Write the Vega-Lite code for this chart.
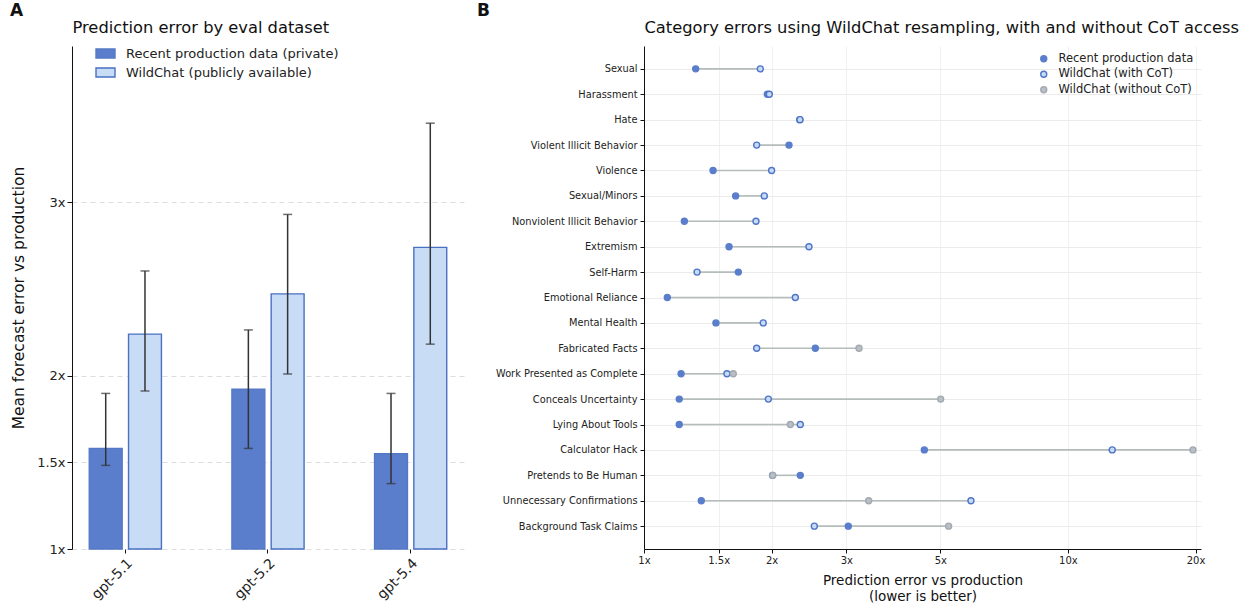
{
  "$schema": "https://vega.github.io/schema/vega-lite/v6.json",
  "padding": {"left": 10, "top": 2, "right": 5, "bottom": 5},
  "spacing": 13,
  "resolve": {"scale": {"fill": "independent", "stroke": "independent", "x": "independent", "y": "independent"}, "legend": {"fill": "independent", "stroke": "independent"}},
  "config": {
    "font": "DejaVu Sans",
    "view": {"stroke": null},
    "axis": {"domainColor": "#111", "tickColor": "#111", "labelColor": "#222", "titleColor": "#111", "titleFontWeight": "normal"},
    "title": {"color": "#111"}
  },
  "hconcat": [
    {
      "width": 392,
      "height": 503,
      "title": {"text": "A", "anchor": "start", "frame": "group", "dx": -62, "fontSize": 17, "fontWeight": "bold", "offset": -1},
      "data": {"values": [
        {"model": "gpt-5.1", "dataset": "Recent production data (private)", "value": 1.58, "lo": 1.482, "hi": 1.897},
        {"model": "gpt-5.1", "dataset": "WildChat (publicly available)", "value": 2.239, "lo": 1.911, "hi": 2.603},
        {"model": "gpt-5.2", "dataset": "Recent production data (private)", "value": 1.922, "lo": 1.58, "hi": 2.263},
        {"model": "gpt-5.2", "dataset": "WildChat (publicly available)", "value": 2.471, "lo": 2.009, "hi": 2.929},
        {"model": "gpt-5.4", "dataset": "Recent production data (private)", "value": 1.549, "lo": 1.377, "hi": 1.897},
        {"model": "gpt-5.4", "dataset": "WildChat (publicly available)", "value": 2.739, "lo": 2.181, "hi": 3.455}
      ]},
      "resolve": {"axis": {"x": "independent"}},
      "layer": [
        {
          "mark": {"type": "bar", "strokeWidth": 1.4},
          "encoding": {
            "x": {"field": "model", "type": "nominal", "scale": {"paddingInner": 0.494, "paddingOuter": 0.121},
              "axis": {"title": null, "labelAngle": -45, "labelAlign": "right", "labelBaseline": "top", "labelFontSize": 14, "domain": false, "tickSize": 4, "labelPadding": 3}},
            "xOffset": {"field": "dataset", "type": "nominal", "scale": {"paddingInner": 0.162, "paddingOuter": 0}},
            "y": {"field": "value", "type": "quantitative", "scale": {"domain": [1, 3.9], "zero": false, "nice": false},
              "axis": {"values": [1, 1.5, 2, 3], "labelExpr": "datum.value + 'x'", "labelFontSize": 13, "tickSize": 5, "title": "Mean forecast error vs production", "titleFontSize": 15.5, "titlePadding": 10, "grid": true, "gridDash": [5, 4], "gridColor": "#dddddd"}},
            "y2": {"datum": 1},
            "fill": {"field": "dataset", "type": "nominal", "scale": {"domain": ["Recent production data (private)", "WildChat (publicly available)"], "range": ["#5a7ecb", "#c9dcf6"]},
              "legend": {"title": null, "orient": "none", "legendX": 23, "legendY": -3, "symbolType": "M-1,-0.47H1V0.47H-1Z", "symbolSize": 361, "symbolStrokeWidth": 1.4, "labelFontSize": 13, "labelColor": "#222", "labelOffset": 10, "rowPadding": 1, "padding": 0, "labelLimit": 400}},
            "stroke": {"field": "dataset", "type": "nominal", "scale": {"domain": ["Recent production data (private)", "WildChat (publicly available)"], "range": ["#5578c6", "#4a70c2"]}, "legend": null}
          }
        },
        {
          "mark": {"type": "rule", "color": "#333333", "strokeWidth": 1.5},
          "encoding": {
            "x": {"field": "model", "type": "nominal", "axis": {"orient": "top", "title": "Prediction error by eval dataset", "labels": false, "ticks": false, "domain": false, "titleAnchor": "start", "titleFontSize": 16.3, "titlePadding": 11}},
            "xOffset": {"field": "dataset", "type": "nominal"},
            "y": {"field": "lo", "type": "quantitative"},
            "y2": {"field": "hi"}
          }
        },
        {
          "mark": {"type": "tick", "color": "#333333", "size": 9, "thickness": 1.5},
          "encoding": {
            "x": {"field": "model", "type": "nominal", "axis": null},
            "xOffset": {"field": "dataset", "type": "nominal"},
            "y": {"field": "lo", "type": "quantitative"}
          }
        },
        {
          "mark": {"type": "tick", "color": "#333333", "size": 9, "thickness": 1.5},
          "encoding": {
            "x": {"field": "model", "type": "nominal", "axis": null},
            "xOffset": {"field": "dataset", "type": "nominal"},
            "y": {"field": "hi", "type": "quantitative"}
          }
        }
      ]
    },
    {
      "width": 557,
      "height": 503,
      "title": {"text": "B", "anchor": "start", "frame": "group", "dx": -167, "fontSize": 17, "fontWeight": "bold", "offset": -1},
      "data": {"values": [
        {"category": "Sexual", "series": "Recent production data", "value": 1.324},
        {"category": "Harassment", "series": "Recent production data", "value": 1.954},
        {"category": "Hate", "series": "Recent production data", "value": 2.33},
        {"category": "Violent Illicit Behavior", "series": "Recent production data", "value": 2.198},
        {"category": "Violence", "series": "Recent production data", "value": 1.455},
        {"category": "Sexual/Minors", "series": "Recent production data", "value": 1.645},
        {"category": "Nonviolent Illicit Behavior", "series": "Recent production data", "value": 1.245},
        {"category": "Extremism", "series": "Recent production data", "value": 1.587},
        {"category": "Self-Harm", "series": "Recent production data", "value": 1.669},
        {"category": "Emotional Reliance", "series": "Recent production data", "value": 1.135},
        {"category": "Mental Health", "series": "Recent production data", "value": 1.478},
        {"category": "Fabricated Facts", "series": "Recent production data", "value": 2.536},
        {"category": "Work Presented as Complete", "series": "Recent production data", "value": 1.223},
        {"category": "Conceals Uncertainty", "series": "Recent production data", "value": 1.211},
        {"category": "Lying About Tools", "series": "Recent production data", "value": 1.211},
        {"category": "Calculator Hack", "series": "Recent production data", "value": 4.584},
        {"category": "Pretends to Be Human", "series": "Recent production data", "value": 2.337},
        {"category": "Unnecessary Confirmations", "series": "Recent production data", "value": 1.365},
        {"category": "Background Task Claims", "series": "Recent production data", "value": 3.033},
        {"category": "Sexual", "series": "WildChat (with CoT)", "value": 1.881},
        {"category": "Harassment", "series": "WildChat (with CoT)", "value": 1.975},
        {"category": "Hate", "series": "WildChat (with CoT)", "value": 2.333},
        {"category": "Violent Illicit Behavior", "series": "WildChat (with CoT)", "value": 1.844},
        {"category": "Violence", "series": "WildChat (with CoT)", "value": 2.0},
        {"category": "Sexual/Minors", "series": "WildChat (with CoT)", "value": 1.922},
        {"category": "Nonviolent Illicit Behavior", "series": "WildChat (with CoT)", "value": 1.837},
        {"category": "Extremism", "series": "WildChat (with CoT)", "value": 2.45},
        {"category": "Self-Harm", "series": "WildChat (with CoT)", "value": 1.334},
        {"category": "Emotional Reliance", "series": "WildChat (with CoT)", "value": 2.275},
        {"category": "Mental Health", "series": "WildChat (with CoT)", "value": 1.911},
        {"category": "Fabricated Facts", "series": "WildChat (with CoT)", "value": 1.844},
        {"category": "Work Presented as Complete", "series": "WildChat (with CoT)", "value": 1.569},
        {"category": "Conceals Uncertainty", "series": "WildChat (with CoT)", "value": 1.965},
        {"category": "Lying About Tools", "series": "WildChat (with CoT)", "value": 2.337},
        {"category": "Calculator Hack", "series": "WildChat (with CoT)", "value": 12.72},
        {"category": "Pretends to Be Human", "series": "WildChat (with CoT)", "value": 2.01},
        {"category": "Unnecessary Confirmations", "series": "WildChat (with CoT)", "value": 5.905},
        {"category": "Background Task Claims", "series": "WildChat (with CoT)", "value": 2.522},
        {"category": "Fabricated Facts", "series": "WildChat (without CoT)", "value": 3.215},
        {"category": "Work Presented as Complete", "series": "WildChat (without CoT)", "value": 1.624},
        {"category": "Conceals Uncertainty", "series": "WildChat (without CoT)", "value": 5.01},
        {"category": "Lying About Tools", "series": "WildChat (without CoT)", "value": 2.214},
        {"category": "Calculator Hack", "series": "WildChat (without CoT)", "value": 19.72},
        {"category": "Pretends to Be Human", "series": "WildChat (without CoT)", "value": 2.012},
        {"category": "Unnecessary Confirmations", "series": "WildChat (without CoT)", "value": 3.388},
        {"category": "Background Task Claims", "series": "WildChat (without CoT)", "value": 5.23}
      ]},
      "resolve": {"axis": {"x": "independent"}},
      "layer": [
        {
          "transform": [{"aggregate": [{"op": "min", "field": "value", "as": "lo"}, {"op": "max", "field": "value", "as": "hi"}], "groupby": ["category"]}],
          "mark": {"type": "rule", "color": "#b4bcbc", "strokeWidth": 1.6},
          "encoding": {
            "x": {"field": "lo", "type": "quantitative", "scale": {"type": "log", "domain": [1, 20.6], "nice": false},
              "axis": {"orient": "top", "title": "Category errors using WildChat resampling, with and without CoT access", "labels": false, "ticks": false, "domain": false, "grid": false, "titleAnchor": "start", "titleFontSize": 16.3, "titlePadding": 11}},
            "x2": {"field": "hi"},
            "y": {"field": "category", "type": "nominal"}
          }
        },
        {
          "mark": {"type": "point", "shape": "circle", "size": 36, "strokeWidth": 1.4, "opacity": 1},
          "encoding": {
            "x": {"field": "value", "type": "quantitative",
              "axis": {"values": [1, 1.5, 2, 3, 5, 10, 20], "labelExpr": "datum.value + 'x'", "labelFlush": false, "labelFontSize": 10, "tickSize": 4, "grid": true, "gridColor": "#f0f0f0", "title": ["Prediction error vs production", "(lower is better)"], "titleFontSize": 13.5, "titlePadding": 8, "titleLineHeight": 16}},
            "y": {"field": "category", "type": "nominal",
              "scale": {"type": "point", "padding": 0.9, "domain": ["Sexual", "Harassment", "Hate", "Violent Illicit Behavior", "Violence", "Sexual/Minors", "Nonviolent Illicit Behavior", "Extremism", "Self-Harm", "Emotional Reliance", "Mental Health", "Fabricated Facts", "Work Presented as Complete", "Conceals Uncertainty", "Lying About Tools", "Calculator Hack", "Pretends to Be Human", "Unnecessary Confirmations", "Background Task Claims"]},
              "axis": {"title": null, "labelFontSize": 9.8, "tickSize": 4, "labelPadding": 3, "grid": true, "gridColor": "#ebebeb"}},
            "fill": {"field": "series", "type": "nominal", "scale": {"domain": ["Recent production data", "WildChat (with CoT)", "WildChat (without CoT)"], "range": ["#5a7ecb", "#c8dbf6", "#babfc6"]},
              "legend": {"title": null, "orient": "top-right", "offset": 7, "padding": 0, "labelFontSize": 11.5, "labelColor": "#222", "symbolSize": 36, "symbolStrokeWidth": 1.4, "rowPadding": 2.5, "labelOffset": 9, "labelLimit": 400}},
            "stroke": {"field": "series", "type": "nominal", "scale": {"domain": ["Recent production data", "WildChat (with CoT)", "WildChat (without CoT)"], "range": ["#5a7ecb", "#4f75c8", "#a3a9b0"]}}
          }
        }
      ]
    }
  ]
}
